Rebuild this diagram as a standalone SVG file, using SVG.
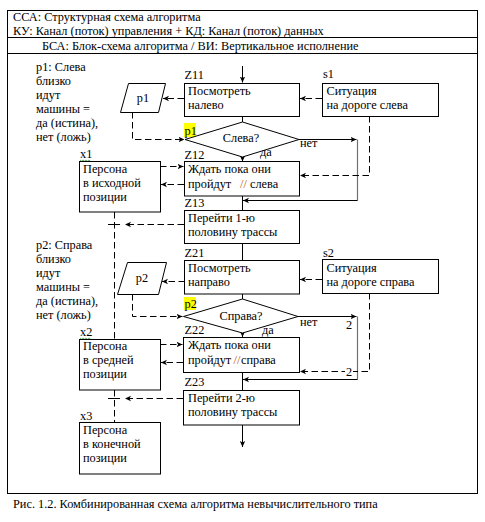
<svg xmlns="http://www.w3.org/2000/svg" width="485" height="522" viewBox="0 0 485 522">
<defs>
<style>
text{font-family:"Liberation Serif","Times New Roman",serif;font-size:12.3px;fill:#000}
.box{fill:#fff;stroke:#000;stroke-width:1}
.ln{fill:none;stroke:#000;stroke-width:1}
.gr{fill:none;stroke:#707070;stroke-width:1.2}
.ds{fill:none;stroke:#000;stroke-width:1;stroke-dasharray:6.5 3.5}
.hl{fill:#ffff00}
.sl{fill:#c06000}
.sq{fill:none;stroke:#3a9a3a;stroke-width:0.8}
</style>
<marker id="ar" markerUnits="userSpaceOnUse" markerWidth="8" markerHeight="7" refX="6" refY="3" orient="auto">
<path d="M0,0.3 L6,3 L0,5.7 L1.6,3 z" fill="#000"/>
</marker>
</defs>
<rect x="0" y="0" width="485" height="522" fill="#fff"/>

<g id="frame">
<rect x="7.5" y="10.5" width="470" height="483" fill="none" stroke="#000"/>
<line x1="7.5" y1="37.5" x2="477.5" y2="37.5" stroke="#000"/>
<line x1="7.5" y1="53.5" x2="477.5" y2="53.5" stroke="#000"/>
<text x="13" y="21">ССА: Структурная  схема алгоритма</text>
<text x="13" y="35">КУ: Канал  (поток) управления  + КД: Канал  (поток) данных</text>
<text x="42" y="50">БСА: Блок-схема алгоритма  / ВИ: Вертикальное  исполнение</text>
</g>

<g id="connectors">
<path class="ln" d="M242.5,66 V82.5" marker-end="url(#ar)"/>
<path class="ln" d="M242.5,116 V122"/>
<path class="ln" d="M242.5,157 V161.5" marker-end="url(#ar)"/>
<path class="ln" d="M242.5,196 V210"/>
<path class="ln" d="M299,139.5 H356.5" marker-end="url(#ar)"/>
<path class="gr" d="M357.5,139.5 V200.5"/>
<path class="ln" d="M357.5,200.5 H243" marker-end="url(#ar)"/>
<path class="ln" d="M242.5,244 V260"/>
<path class="ln" d="M242.5,294 V299"/>
<path class="ln" d="M242.5,333 V337" marker-end="url(#ar)"/>
<path class="ln" d="M242.5,372 V391"/>
<path class="ln" d="M298,316.5 H356.5" marker-end="url(#ar)"/>
<path class="gr" d="M357.5,316.5 V379.5"/>
<path class="ln" d="M357.5,379.5 H243" marker-end="url(#ar)"/>
<path class="ln" d="M242.5,425 V447" marker-end="url(#ar)"/>

<path class="ds" d="M322,98.5 H300" marker-end="url(#ar)"/>
<path class="ds" d="M369.5,116 V175.5 H300" marker-end="url(#ar)"/>
<path class="ds" d="M184,98.5 H163" marker-end="url(#ar)"/>
<path class="ds" d="M132.5,112 V139.5 H184.5" marker-end="url(#ar)"/>
<path class="ds" d="M160,166.5 H183.5" marker-end="url(#ar)"/>
<path class="ds" d="M184,184.5 H161" marker-end="url(#ar)"/>
<path class="ds" d="M114.5,212 V339"/>
<path class="ln" d="M108,224.5 H120"/>
<path class="ds" d="M184,224.5 H125" marker-end="url(#ar)"/>
<path class="ds" d="M185,281.5 H162" marker-end="url(#ar)"/>
<path class="ds" d="M132.5,294 V316.5 H182.5" marker-end="url(#ar)"/>
<path class="ds" d="M322,279.5 H300" marker-end="url(#ar)"/>
<path class="ds" d="M369.5,293 V371.5 H300" marker-end="url(#ar)"/>
<path class="ds" d="M160,344.5 H182.5" marker-end="url(#ar)"/>
<path class="ds" d="M183,362.5 H161" marker-end="url(#ar)"/>
<path class="ds" d="M114.5,390 V422"/>
<path class="ln" d="M108,398.5 H120"/>
<path class="ds" d="M183,398.5 H125" marker-end="url(#ar)"/>

<text x="300" y="147">нет</text>
<text x="260" y="156">да</text>
<text x="300" y="326">нет</text>
<text x="262" y="334">да</text>
<rect x="345" y="366" width="8" height="10" fill="#fff"/>
<text x="346" y="329">2</text>
<text x="346" y="376">2</text>
</g>

<g id="legend-p1">
<text x="36" y="71">p1: Слева</text>
<text x="36" y="85">близко</text>
<text x="36" y="99">идут</text>
<text x="36" y="113">машины =</text>
<text x="36" y="127">да (истина),</text>
<text x="36" y="141">нет (ложь)</text>
</g>

<g id="legend-p2">
<text x="36" y="249">p2: Справа</text>
<text x="36" y="263">близко</text>
<text x="36" y="277">идут</text>
<text x="36" y="291">машины =</text>
<text x="36" y="305">да (истина),</text>
<text x="36" y="319">нет (ложь)</text>
</g>

<g id="Z11">
<text x="184.5" y="79">Z11</text>
<rect class="box" x="184.5" y="83.5" width="115" height="33"/>
<text x="188" y="95">Посмотреть</text>
<text x="188" y="109">налево</text>
</g>

<g id="D1">
<rect class="hl" x="184" y="123" width="12" height="14"/>
<text x="184.5" y="135">p1</text>
<polygon class="box" points="185,139.5 242.5,122 299,139.5 242.5,157"/>
<text x="241" y="142" text-anchor="middle">Слева?</text>
</g>

<g id="Z12">
<text x="184.5" y="159">Z12</text>
<rect class="box" x="184.5" y="161.5" width="115" height="34.5"/>
<text x="188" y="173">Ждать пока они</text>
<text x="188" y="188">пройдут<tspan x="240" class="sl">//</tspan><tspan x="250">слева</tspan></text>
</g>

<g id="Z13">
<text x="184.5" y="207">Z13</text>
<rect class="box" x="184.5" y="210.5" width="115" height="33"/>
<text x="188" y="222">Перейти  1-ю</text>
<text x="188" y="236">половину  трассы</text>
</g>

<g id="Z21">
<text x="184.5" y="257">Z21</text>
<rect class="box" x="184.5" y="260.5" width="115" height="33.5"/>
<text x="188" y="272">Посмотреть</text>
<text x="188" y="286">направо</text>
</g>

<g id="D2">
<rect class="hl" x="184" y="297" width="12" height="13"/>
<text x="184.5" y="308">p2</text>
<polygon class="box" points="183.5,316.5 242.5,299 298,316.5 242.5,333"/>
<text x="241" y="320" text-anchor="middle">Справа?</text>
</g>

<g id="Z22">
<text x="184.5" y="334">Z22</text>
<rect class="box" x="183.5" y="337.5" width="116" height="35"/>
<text x="188" y="349">Ждать пока они</text>
<text x="188" y="364">пройдут<tspan x="233.5" class="sl">//</tspan><tspan x="241">справа</tspan></text>
</g>

<g id="Z23">
<text x="184.5" y="386">Z23</text>
<rect class="box" x="183.5" y="390.5" width="116" height="34.5"/>
<text x="188" y="402">Перейти  2-ю</text>
<text x="188" y="416">половину  трассы</text>
</g>

<g id="s1">
<text x="323" y="78">s1</text>
<rect class="box" x="322.5" y="83.5" width="116" height="33"/>
<text x="326.5" y="95">Ситуация</text>
<text x="326.5" y="109">на дороге слева</text>
</g>

<g id="s2">
<text x="323" y="257">s2</text>
<rect class="box" x="322.5" y="259.5" width="116" height="34"/>
<text x="326.5" y="272">Ситуация</text>
<text x="326.5" y="286">на дороге справа</text>
</g>

<g id="p1">
<polygon class="box" points="128.5,83.5 165.5,83.5 158.5,112.5 120.5,112.5"/>
<text x="143" y="102" text-anchor="middle">p1</text>
</g>

<g id="p2">
<polygon class="box" points="127.5,262.5 166.5,262.5 158.5,294.5 117.5,294.5"/>
<text x="142" y="282" text-anchor="middle">p2</text>
</g>

<g id="x1">
<text x="80" y="158">x1</text>
<path class="sq" d="M80,160 l1.5,1.2 l1.5,-1.2 l1.5,1.2 l1.5,-1.2 l1.5,1.2 l1.5,-1.2 l1.5,1.2"/>
<rect class="box" x="79.5" y="161.5" width="81" height="50.5"/>
<text x="83" y="173">Персона</text>
<text x="83" y="187">в исходной</text>
<text x="83" y="201">позиции</text>
</g>

<g id="x2">
<text x="80" y="336">x2</text>
<path class="sq" d="M80,338 l1.5,1.2 l1.5,-1.2 l1.5,1.2 l1.5,-1.2 l1.5,1.2 l1.5,-1.2 l1.5,1.2"/>
<rect class="box" x="79.5" y="339.5" width="81" height="50.5"/>
<text x="83" y="350">Персона</text>
<text x="83" y="364">в средней</text>
<text x="83" y="378">позиции</text>
</g>

<g id="x3">
<text x="80" y="420">x3</text>
<path class="sq" d="M80,422 l1.5,1.2 l1.5,-1.2 l1.5,1.2 l1.5,-1.2 l1.5,1.2 l1.5,-1.2 l1.5,1.2"/>
<rect class="box" x="79.5" y="422.5" width="81" height="51.5"/>
<text x="83" y="434">Персона</text>
<text x="83" y="448">в конечной</text>
<text x="83" y="462">позиции</text>
</g>

<g id="caption">
<text x="13" y="508">Рис. 1.2. Комбинированная  схема алгоритма  невычислительного  типа</text>
</g>
</svg>
